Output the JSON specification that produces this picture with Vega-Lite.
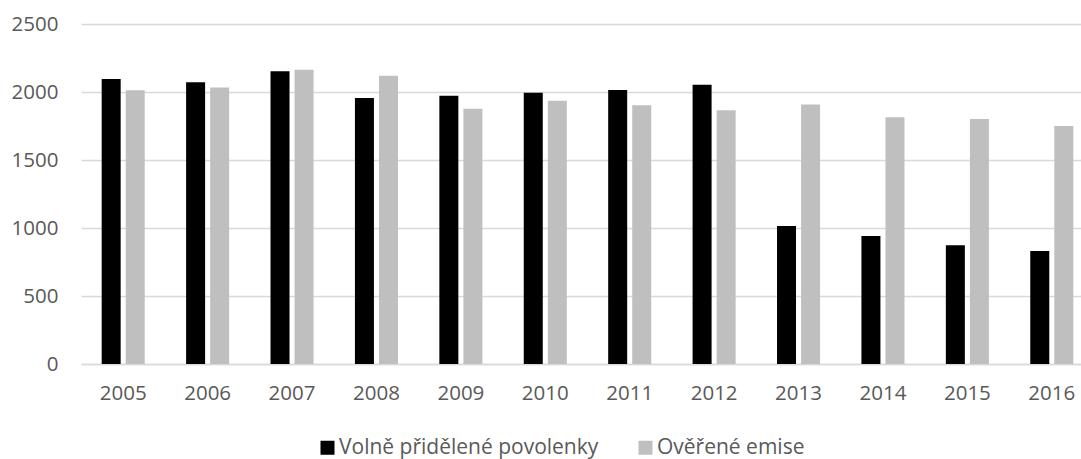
{
  "$schema": "https://vega.github.io/schema/vega-lite/v6.json",
  "autosize": {"type": "none"},
  "padding": {"left": 81, "top": 24, "right": 0, "bottom": 95},
  "width": 1000,
  "height": 340,
  "background": "white",
  "config": {
    "view": {"stroke": null},
    "font": "Open Sans"
  },
  "data": {
    "values": [
      {"rok": "2005", "serie": "Volně přidělené povolenky", "hodnota": 2095},
      {"rok": "2005", "serie": "Ověřené emise", "hodnota": 2012},
      {"rok": "2006", "serie": "Volně přidělené povolenky", "hodnota": 2071},
      {"rok": "2006", "serie": "Ověřené emise", "hodnota": 2034},
      {"rok": "2007", "serie": "Volně přidělené povolenky", "hodnota": 2152},
      {"rok": "2007", "serie": "Ověřené emise", "hodnota": 2164},
      {"rok": "2008", "serie": "Volně přidělené povolenky", "hodnota": 1956},
      {"rok": "2008", "serie": "Ověřené emise", "hodnota": 2120},
      {"rok": "2009", "serie": "Volně přidělené povolenky", "hodnota": 1973},
      {"rok": "2009", "serie": "Ověřené emise", "hodnota": 1877},
      {"rok": "2010", "serie": "Volně přidělené povolenky", "hodnota": 1995},
      {"rok": "2010", "serie": "Ověřené emise", "hodnota": 1936},
      {"rok": "2011", "serie": "Volně přidělené povolenky", "hodnota": 2015},
      {"rok": "2011", "serie": "Ověřené emise", "hodnota": 1902},
      {"rok": "2012", "serie": "Volně přidělené povolenky", "hodnota": 2054},
      {"rok": "2012", "serie": "Ověřené emise", "hodnota": 1865},
      {"rok": "2013", "serie": "Volně přidělené povolenky", "hodnota": 1015},
      {"rok": "2013", "serie": "Ověřené emise", "hodnota": 1909},
      {"rok": "2014", "serie": "Volně přidělené povolenky", "hodnota": 941},
      {"rok": "2014", "serie": "Ověřené emise", "hodnota": 1814},
      {"rok": "2015", "serie": "Volně přidělené povolenky", "hodnota": 873},
      {"rok": "2015", "serie": "Ověřené emise", "hodnota": 1801},
      {"rok": "2016", "serie": "Volně přidělené povolenky", "hodnota": 831},
      {"rok": "2016", "serie": "Ověřené emise", "hodnota": 1750}
    ]
  },
  "mark": {"type": "bar"},
  "encoding": {
    "x": {
      "field": "rok",
      "type": "nominal",
      "scale": {"range": [0, 1013], "paddingInner": 0.49, "paddingOuter": 0.245},
      "axis": {
        "title": null,
        "labelAngle": 0,
        "ticks": false,
        "domain": true,
        "domainColor": "#d9d9d9",
        "domainWidth": 1.5,
        "labelPadding": 19,
        "labelFontSize": 20.5,
        "labelColor": "#595959",
        "labelFont": "Open Sans"
      }
    },
    "xOffset": {
      "field": "serie",
      "type": "nominal",
      "sort": ["Volně přidělené povolenky", "Ověřené emise"],
      "scale": {"paddingInner": 0.21, "paddingOuter": 0}
    },
    "y": {
      "field": "hodnota",
      "type": "quantitative",
      "scale": {"domain": [0, 2500], "nice": false},
      "axis": {
        "title": null,
        "values": [0, 500, 1000, 1500, 2000, 2500],
        "format": "d",
        "ticks": false,
        "domain": false,
        "grid": true,
        "gridColor": "#d9d9d9",
        "gridWidth": 1.5,
        "labelPadding": 23,
        "labelFontSize": 20.5,
        "labelColor": "#595959",
        "labelFont": "Open Sans"
      }
    },
    "color": {
      "field": "serie",
      "type": "nominal",
      "sort": ["Volně přidělené povolenky", "Ověřené emise"],
      "scale": {
        "domain": ["Volně přidělené povolenky", "Ověřené emise"],
        "range": ["#000000", "#bfbfbf"]
      },
      "legend": {
        "title": null,
        "orient": "none",
        "direction": "horizontal",
        "legendX": 236,
        "legendY": 413,
        "padding": 0,
        "symbolType": "square",
        "symbolSize": 196,
        "symbolStrokeWidth": 0,
        "labelOffset": 1,
        "columnPadding": 36,
        "labelFontSize": 21,
        "labelColor": "#595959",
        "labelFont": "Open Sans",
        "labelLimit": 400
      }
    }
  }
}
